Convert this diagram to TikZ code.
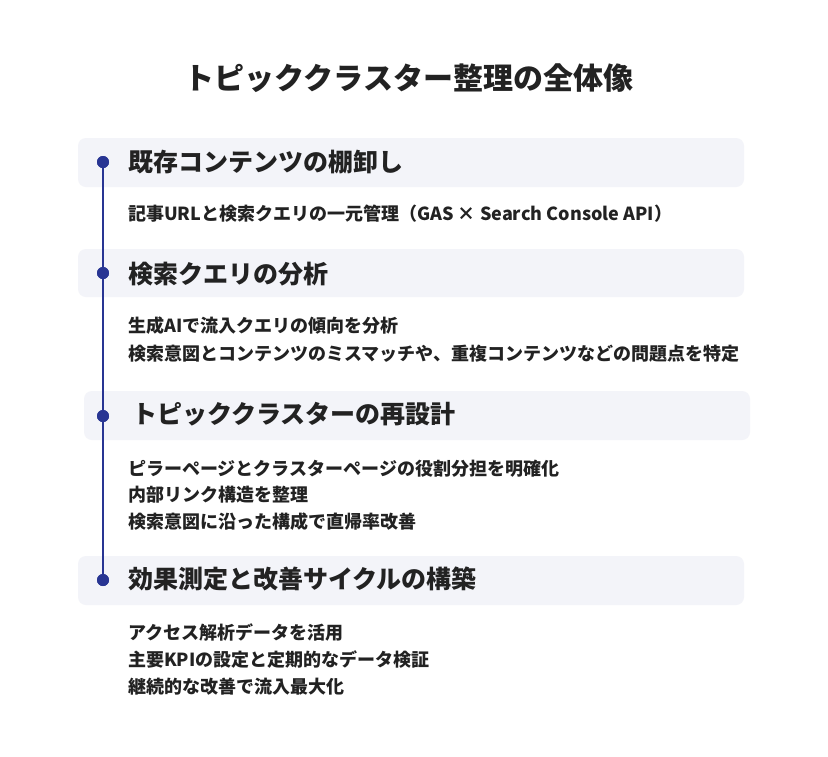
\documentclass[tikz,border=0pt]{standalone}
\usepackage{fontspec}
\setmainfont{Noto Sans CJK JP}
\definecolor{boxbg}{HTML}{F3F4F9}
\definecolor{navy}{HTML}{283593}
\definecolor{ink}{HTML}{222222}
\begin{document}
\begin{tikzpicture}[x=1pt,y=-1pt,
  band/.style={fill=boxbg, rounded corners=8pt},
  dotmark/.style={circle, fill=navy, inner sep=0pt, minimum size=12pt},
  titletext/.style={font=\fontsize{30}{35}\selectfont\bfseries, text=ink, inner sep=0pt, anchor=base},
  heading/.style={font=\fontsize{25}{29}\selectfont\bfseries, text=ink, inner sep=0pt, anchor=base west},
  body/.style={font=\fontsize{18}{22}\selectfont\bfseries, text=ink, inner sep=0pt, anchor=base west},
  spine/.style={draw=navy, line width=1.5pt},
]
\useasboundingbox[fill=white] (0,0) rectangle (828,756);

\node[titletext] (title) at (409,89.8) {トピッククラスター整理の全体像};

% bands
\path[band] (78,138) rectangle (744,187);
\path[band] (78,249) rectangle (744,297);
\path[band] (84,391) rectangle (750,440);
\path[band] (78,556) rectangle (744,605);

% timeline dots
\node[dotmark] (d1) at (103,162) {};
\node[dotmark] (d2) at (103,273) {};
\node[dotmark] (d3) at (103,416) {};
\node[dotmark] (d4) at (103,580) {};
\draw[spine] (d1.center) -- (d4.center);
\node[dotmark] at (d1) {};
\node[dotmark] at (d2) {};
\node[dotmark] at (d3) {};
\node[dotmark] at (d4) {};

% headings
\node[heading] (h1) at (128,171) {既存コンテンツの棚卸し};
\node[heading] (h2) at (128,283.5) {検索クエリの分析};
\node[heading] (h3) at (132,423) {トピッククラスターの再設計};
\node[heading] (h4) at (128,588) {効果測定と改善サイクルの構築};

% body
\node[body] (b11) at (128,220.3) {記事URLと検索クエリの一元管理（GAS × Search Console API）};
\node[body] (b21) at (128,332.8) {生成AIで流入クエリの傾向を分析};
\node[body] (b22) at (128,360.3) {検索意図とコンテンツのミスマッチや、重複コンテンツなどの問題点を特定};
\node[body] (b31) at (128,475.3) {ピラーページとクラスターページの役割分担を明確化};
\node[body] (b32) at (128,501.3) {内部リンク構造を整理};
\node[body] (b33) at (128,528.3) {検索意図に沿った構成で直帰率改善};
\node[body] (b41) at (128,639.3) {アクセス解析データを活用};
\node[body] (b42) at (128,666.8) {主要KPIの設定と定期的なデータ検証};
\node[body] (b43) at (128,693.3) {継続的な改善で流入最大化};
\end{tikzpicture}
\end{document}
